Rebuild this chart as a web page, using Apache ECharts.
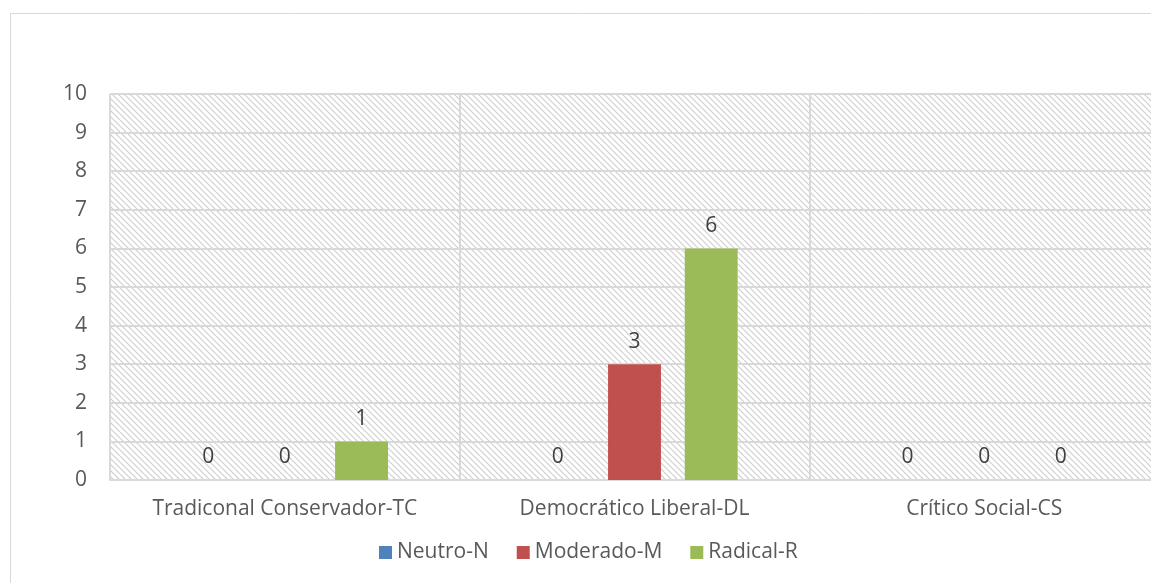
<!DOCTYPE html>
<html><head><meta charset="utf-8">
<script src="https://cdn.jsdelivr.net/npm/echarts@6/dist/echarts.min.js"></script>
<style>html,body{margin:0;padding:0;background:#fff}#c{width:1151px;height:583px}</style>
</head><body><div id="c"></div>
<script>
const categories = ['Tradiconal Conservador-TC', 'Democrático Liberal-DL', 'Crítico Social-CS'];
const neutro = [0, 0, 0];
const moderado = [0, 3, 0];
const radical = [1, 6, 0];
const seriesNames = ['Neutro-N', 'Moderado-M', 'Radical-R'];
const colors = ['#4F81BD', '#C0504D', '#9BBB59'];

const pc = document.createElement('canvas');
pc.width = 6; pc.height = 6;
const g = pc.getContext('2d');
g.fillStyle = '#ffffff'; g.fillRect(0,0,6,6);
g.strokeStyle = '#cfcfcf'; g.lineWidth = 1.2;
for (let k = -6; k <= 12; k += 6) { g.beginPath(); g.moveTo(k, 0); g.lineTo(k + 6, 6); g.stroke(); }

const font = '"Open Sans", "Noto Sans", sans-serif';
const fs = 21;
const chart = echarts.init(document.getElementById('c'));
const mk = (name, data, i) => ({
  name, type: 'bar', data, itemStyle: { color: colors[i] },
  barGap: '45%', barCategoryGap: '41%',
  label: { show: true, position: 'top', distance: 12, color: '#404040', fontSize: fs, fontFamily: font },
  z: 3
});
chart.setOption({
  animation: false,
  backgroundColor: '#fff',
  graphic: [{ type: 'rect', shape: { x: 10.5, y: 13.5, width: 1200, height: 600 }, style: { fill: 'none', stroke: '#d9d9d9', lineWidth: 1 }, z: -10 }],
  grid: { left: 110, top: 94, width: 1049, height: 386, show: true, borderWidth: 0,
    outerBoundsMode: 'none', containLabel: false,
    backgroundColor: { image: pc, repeat: 'repeat' } },
  legend: { top: 537, left: 374, itemWidth: 13, itemHeight: 13, itemGap: 28,
    icon: 'rect', textStyle: { color: '#595959', fontSize: fs, fontFamily: font } },
  xAxis: { type: 'category', data: categories,
    axisLine: { lineStyle: { color: '#d9d9d9', width: 2 } }, axisTick: { show: false },
    splitLine: { show: true, lineStyle: { color: '#d9d9d9', width: 2 } },
    axisLabel: { color: '#595959', fontSize: fs, fontFamily: font, margin: 19 } },
  yAxis: { type: 'value', min: 0, max: 10, interval: 1,
    axisLine: { show: false }, axisTick: { show: false },
    splitLine: { lineStyle: { color: '#d9d9d9', width: 2 } },
    axisLabel: { color: '#595959', fontSize: fs, fontFamily: font, margin: 23 } },
  series: [mk(seriesNames[0], neutro, 0), mk(seriesNames[1], moderado, 1), mk(seriesNames[2], radical, 2)]
});
</script></body></html>
